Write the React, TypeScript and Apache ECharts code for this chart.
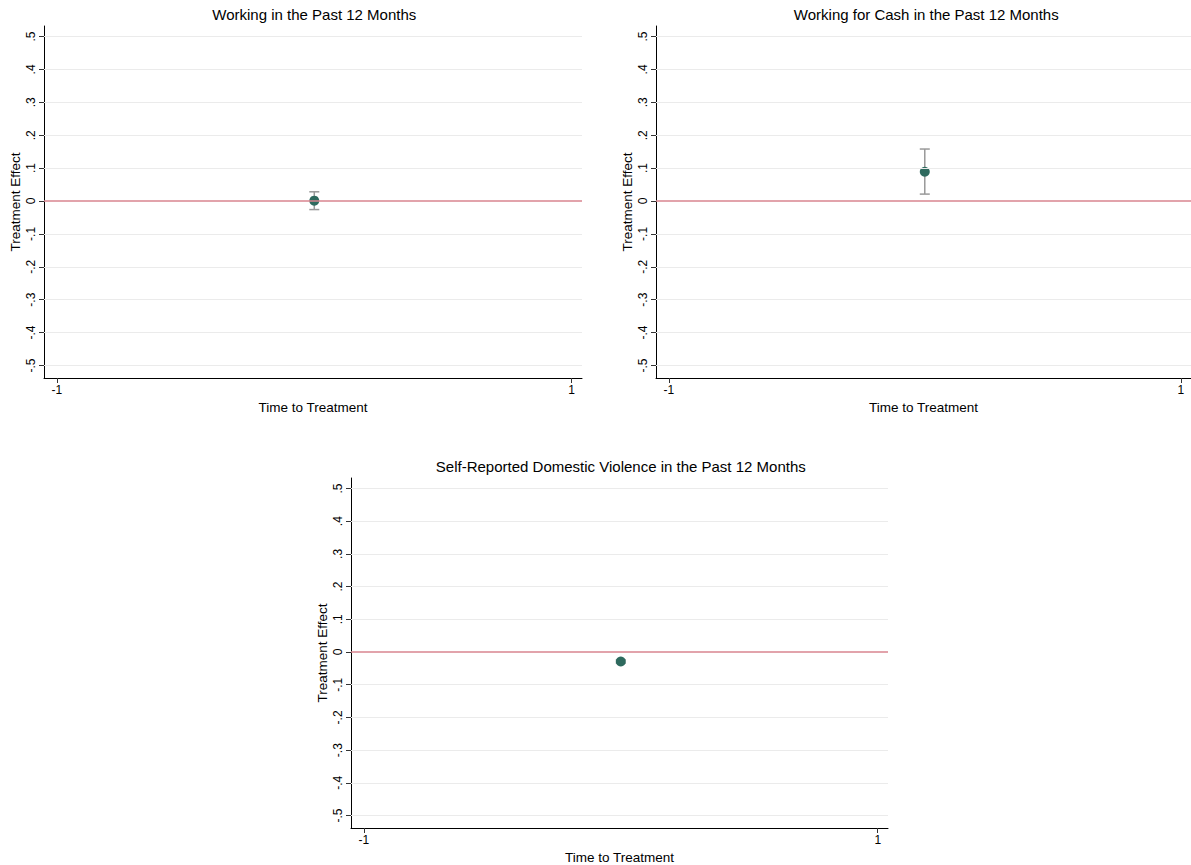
import React, { useEffect, useRef } from "react";
import * as echarts from "echarts";

const panelTitles = [
  "Working in the Past 12 Months",
  "Working for Cash in the Past 12 Months",
  "Self-Reported Domestic Violence in the Past 12 Months",
];
const xValues = [0, 0, 0];
const estimates = [0.001, 0.089, -0.029];
const ciLow = [-0.026, 0.021, -0.034];
const ciHigh = [0.028, 0.158, -0.024];
const yTicks = [-0.5, -0.4, -0.3, -0.2, -0.1, 0, 0.1, 0.2, 0.3, 0.4, 0.5];
const xTicks = [-1, 1];
const xTitle = "Time to Treatment";
const yTitle = "Treatment Effect";

const grids = [
  { left: 44, top: 26, width: 538, height: 352 },
  { left: 656, top: 26, width: 538, height: 352 },
  { left: 351, top: 478, width: 537, height: 350 },
];

const fmt = (v: number) => {
  if (Math.abs(v) < 1e-9) return "0";
  const s = String(Math.round(v * 10) / 10);
  return s.replace("0.", ".");
};

export default function App() {
  const ref = useRef<HTMLDivElement>(null);
  useEffect(() => {
    if (!ref.current) return;
    const chart = echarts.init(ref.current, null, { renderer: "svg" });
    const font = "'Liberation Sans', Arial, Helvetica, sans-serif";
    const option: any = {
      animation: false,
      backgroundColor: "#ffffff",
      textStyle: { fontFamily: font },
      title: panelTitles.map((t, i) => ({
        text: t,
        left: grids[i].left + grids[i].width * (1.05 / 2.09),
        top: grids[i].top - 19,
        textAlign: "center",
        padding: 0,
        textStyle: { fontSize: 15, fontWeight: "normal", color: "#000", fontFamily: font },
      })),
      grid: grids.map((g) => ({ ...g, containLabel: false })),
      xAxis: grids.map((_, i) => ({
        type: "value",
        gridIndex: i,
        min: -1.05,
        max: 1.04,
        name: xTitle,
        nameLocation: "middle",
        nameGap: 22,
        nameTextStyle: { fontSize: 13.5, color: "#000", fontFamily: font },
        axisLine: { show: true, onZero: false, lineStyle: { color: "#000", width: 1 } },
        axisTick: { show: true, length: 5, customValues: xTicks, lineStyle: { color: "#333" } },
        axisLabel: {
          customValues: xTicks,
          formatter: (v: number) => String(v),
          fontSize: 12,
          color: "#000",
          margin: 6,
          fontFamily: font,
        },
        splitLine: { show: false },
      })),
      yAxis: grids.map((_, i) => ({
        type: "value",
        gridIndex: i,
        min: -0.538,
        max: 0.532,
        name: yTitle,
        nameLocation: "middle",
        nameRotate: 90,
        nameGap: 22,
        nameTextStyle: { fontSize: 13.5, color: "#000", fontFamily: font },
        axisLine: { show: true, onZero: false, lineStyle: { color: "#000", width: 1 } },
        axisTick: { show: true, length: 5, customValues: yTicks, lineStyle: { color: "#333" } },
        axisLabel: {
          customValues: yTicks,
          formatter: (v: number) => fmt(v),
          rotate: 90,
          fontSize: 12,
          color: "#000",
          margin: 7,
          fontFamily: font,
        },
        splitLine: { show: false },
      })),
      series: [
        ...grids.map((_, i) => ({
          type: "scatter",
          xAxisIndex: i,
          yAxisIndex: i,
          z: 1,
          data: [],
          markLine: {
            silent: true,
            symbol: "none",
            label: { show: false },
            lineStyle: { color: "#ebebeb", width: 1, type: "solid" },
            data: yTicks.filter((v) => v !== 0).map((v) => ({ yAxis: v })),
          },
        })),
        ...grids.map((_, i) => ({
          type: "scatter",
          xAxisIndex: i,
          yAxisIndex: i,
          z: 2,
          data: [],
          markLine: {
            silent: true,
            symbol: "none",
            label: { show: false },
            lineStyle: { color: "#d9848f", width: 1.5, type: "solid" },
            data: [{ yAxis: 0 }],
          },
        })),
        ...grids.map((_, i) => ({
          type: "custom",
          xAxisIndex: i,
          yAxisIndex: i,
          z: 3,
          data: [[xValues[i], ciLow[i], ciHigh[i]]],
          renderItem: (params: any, api: any) => {
            const lo = api.coord([api.value(0), api.value(1)]);
            const hi = api.coord([api.value(0), api.value(2)]);
            const hw = 5;
            const style = { stroke: "#999999", lineWidth: 1.5, fill: "none" };
            return {
              type: "group",
              children: [
                { type: "line", shape: { x1: lo[0], y1: lo[1], x2: hi[0], y2: hi[1] }, style },
                { type: "line", shape: { x1: lo[0] - hw, y1: lo[1], x2: lo[0] + hw, y2: lo[1] }, style },
                { type: "line", shape: { x1: hi[0] - hw, y1: hi[1], x2: hi[0] + hw, y2: hi[1] }, style },
              ],
            };
          },
        })),
        ...grids.map((_, i) => ({
          type: "scatter",
          xAxisIndex: i,
          yAxisIndex: i,
          z: 4,
          symbol: "circle",
          symbolSize: 10,
          itemStyle: { color: "#2e6a5e", opacity: 1 },
          data: [[xValues[i], estimates[i]]],
        })),
      ],
    };
    chart.setOption(option);
    return () => chart.dispose();
  }, []);
  return (
    <div
      ref={ref}
      style={{ position: "fixed", left: 0, top: 0, width: 1191, height: 865, background: "#fff" }}
    />
  );
}
